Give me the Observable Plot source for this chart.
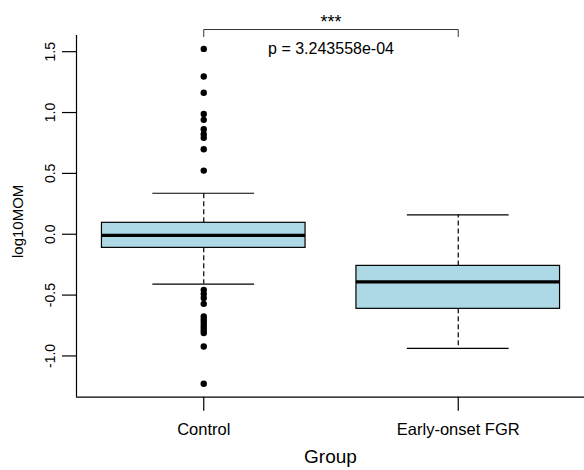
<!DOCTYPE html>
<html>
<head>
<meta charset="utf-8">
<script src="https://cdn.jsdelivr.net/npm/d3@7"></script>
<script src="https://cdn.jsdelivr.net/npm/@observablehq/plot@0.6"></script>
<style>
  html, body { margin: 0; padding: 0; background: white; }
</style>
</head>
<body>
<div id="chart"></div>
<script>
// ---- data ----
const groups = ["Control", "Early-onset FGR"];
const lowerWhisker = [-0.41, -0.937];
const q1 = [-0.112, -0.613];
const medians = [-0.01, -0.391];
const q3 = [0.094, -0.26];
const upperWhisker = [0.337, 0.159];
const controlOutliers = [1.523, 1.296, 1.162, 0.989, 0.940, 0.863, 0.822, 0.792, 0.698, 0.523,
  -0.457, -0.490, -0.523, -0.572, -0.676, -0.700, -0.722, -0.745, -0.768, -0.790, -0.812, -0.923, -1.229];
const fgrOutliers = [];
const yTicks = [-1, -0.5, 0, 0.5, 1, 1.5];
const yLimits = [-1.339, 1.633];
const xLimits = [0.5, 2.5];
const bracketLevels = [1.624, 1.682];
const starsText = "***";
const starsY = 1.698;
const pText = "p = 3.243558e-04";
const pY = 1.482;
const xTitle = "Group";
const yTitle = "log10MOM";

// ---- derived tables ----
const boxes = groups.map((g, i) => ({
  pos: i + 1, lw: lowerWhisker[i], q1: q1[i], med: medians[i], q3: q3[i], uw: upperWhisker[i]
}));
const outliers = [
  ...controlOutliers.map(v => ({pos: 1, v})),
  ...fgrOutliers.map(v => ({pos: 2, v}))
];
const bracket = [
  {x: 1, y: bracketLevels[0]}, {x: 1, y: bracketLevels[1]},
  {x: 2, y: bracketLevels[1]}, {x: 2, y: bracketLevels[0]}
];
const mid = (1 + groups.length) / 2;
const bw = 0.4, cap = 0.2;

const font = "'Liberation Sans', Arial, Helvetica, sans-serif";

const chart = Plot.plot({
  width: 584,
  height: 470,
  marginLeft: 76,
  marginRight: 0,
  marginTop: 35,
  marginBottom: 73.3,
  style: {fontFamily: font, background: "white", color: "black"},
  x: {domain: xLimits, range: [76, 585], axis: null},
  y: {domain: yLimits, axis: null},
  marks: [
    // box bodies
    Plot.rect(boxes, {x1: d => d.pos - bw, x2: d => d.pos + bw, y1: "q1", y2: "q3",
      fill: "#ADD8E6", stroke: "black", strokeWidth: 1.2}),
    // whiskers (dashed)
    Plot.ruleX(boxes, {x: "pos", y1: "q3", y2: "uw", stroke: "black", strokeWidth: 1.2, strokeDasharray: "5,3"}),
    Plot.ruleX(boxes, {x: "pos", y1: "q1", y2: "lw", stroke: "black", strokeWidth: 1.2, strokeDasharray: "5,3"}),
    // staples
    Plot.ruleY(boxes, {y: "uw", x1: d => d.pos - cap, x2: d => d.pos + cap, stroke: "black", strokeWidth: 1.2}),
    Plot.ruleY(boxes, {y: "lw", x1: d => d.pos - cap, x2: d => d.pos + cap, stroke: "black", strokeWidth: 1.2}),
    // medians
    Plot.ruleY(boxes, {y: "med", x1: d => d.pos - bw, x2: d => d.pos + bw, stroke: "black", strokeWidth: 3.3}),
    // outliers
    Plot.dot(outliers, {x: "pos", y: "v", r: 3.2, fill: "black", stroke: "none"}),
    // L-shaped box
    Plot.ruleX([xLimits[0]], {stroke: "black", strokeWidth: 1.2}),
    Plot.ruleY([yLimits[0]], {stroke: "black", strokeWidth: 1.2}),
    // axes
    Plot.axisY({ticks: yTicks, tickFormat: d => d.toFixed(1), tickSize: 14, tickPadding: 8,
      tickRotate: -90, fontSize: 14, stroke: "black", strokeWidth: 1.2, fill: "black"}),
    Plot.axisX({ticks: [1, 2], tickFormat: d => groups[d - 1], tickSize: 14, tickPadding: 12,
      fontSize: 16.5, stroke: "black", strokeWidth: 1.2, fill: "black"}),
    // axis titles
    Plot.text([xTitle], {frameAnchor: "bottom", dx: 0, dy: 66, lineAnchor: "bottom", fontSize: 19, fill: "black"}),
    Plot.text([yTitle], {frameAnchor: "left", dx: -58, dy: 5, rotate: -90, textAnchor: "middle", lineAnchor: "middle", fontSize: 15, fill: "black"}),
    // significance bracket
    Plot.line(bracket, {x: "x", y: "y", stroke: "#333", strokeWidth: 1}),
    Plot.text([starsText], {x: () => mid, y: () => starsY, lineAnchor: "bottom", fontSize: 18, fill: "black"}),
    Plot.text([pText], {x: () => mid, y: () => pY, lineAnchor: "bottom", fontSize: 16, fill: "black"})
  ]
});
document.getElementById("chart").appendChild(chart);
</script>
</body>
</html>
